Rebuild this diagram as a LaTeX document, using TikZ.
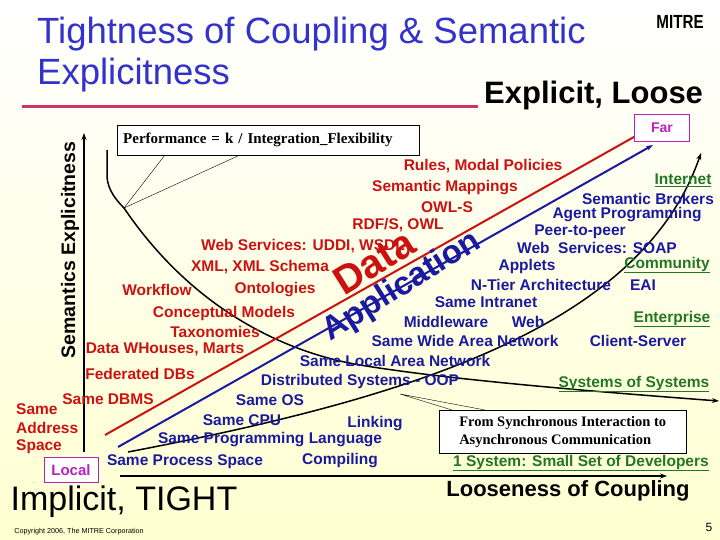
\documentclass[tikz,border=0pt]{standalone}
\usepackage{fontspec}
\setmainfont{Liberation Sans}
\newfontfamily\serifT{Liberation Serif}
\usetikzlibrary{arrows.meta}
\definecolor{ttl}{HTML}{3333CC}
\definecolor{rd}{HTML}{CC1111}
\definecolor{bl}{HTML}{1A1AA0}
\definecolor{gr}{HTML}{227722}
\definecolor{pk}{HTML}{CC3366}
\definecolor{mg}{HTML}{BB22BB}
\begin{document}
\begin{tikzpicture}[x=1pt,y=-1pt,
  rl/.style={text=rd,font=\bfseries\fontsize{15.5}{15.5}\selectfont,inner sep=0pt},
  bll/.style={text=bl,font=\bfseries\fontsize{15.5}{15.5}\selectfont,inner sep=0pt},
  gl/.style={text=gr,font=\bfseries\fontsize{15.5}{15.5}\selectfont,inner sep=0pt},
  arr/.style={-{Stealth[length=7pt,width=5pt]}},
  cbox/.style={draw,fill=white,inner sep=4pt}]
\shade[top color=white,bottom color=yellow!18] (0,0) rectangle (720,540);
\useasboundingbox (0,0) rectangle (720,540);
% title
\node[anchor=base west,text=ttl,font=\fontsize{36.5}{36.5}\selectfont,inner sep=0pt] (t1) at (37,44) {Tightness of Coupling \& Semantic};
\node[anchor=base west,text=ttl,font=\fontsize{36.5}{36.5}\selectfont,inner sep=0pt] (t2) at (37,85) {Explicitness};
\node[font=\bfseries\fontsize{19}{19}\selectfont,inner sep=0pt] (mitre) at (680,22) {\addfontfeature{FakeStretch=0.8}MITRE};
\draw[pk,line width=3pt] (22,107) coordinate (ul1) -- (478,107) coordinate (ul2);
\node[anchor=base west,font=\bfseries\fontsize{31}{31}\selectfont,inner sep=0pt] (el) at (484,104) {Explicit, Loose};
% axes
\coordinate (ya0) at (84,452); \coordinate (ya1) at (84,133);
\draw[line width=1.5pt,arr] (ya0) -- (ya1);
\node[rotate=90,font=\bfseries\fontsize{19.5}{19.5}\selectfont,inner sep=0pt] (yl) at (70,250) {Semantics Explicitness};
\coordinate (xa0) at (120,476); \coordinate (xa1) at (667,476);
\draw[line width=1.5pt,arr] (xa0) -- (xa1);
% performance curve
\coordinate (p0) at (107,150); \coordinate (pc) at (124,208); \coordinate (pe) at (719,401);
\draw[line width=1.5pt,arr] (p0) -- (107,177) .. controls (108,190) and (116,200) .. (pc)
  .. controls (200,320) and (300,355) .. (360,365) .. controls (450,380) and (600,392) .. (pe);
% data / application lines
\coordinate (d0) at (105,435); \coordinate (d1) at (641,133);
\draw[rd,line width=2pt,arr] (d0) -- (d1);
\coordinate (a0) at (118,447); \coordinate (a1) at (653,145);
\draw[bl,line width=2pt,arr] (a0) -- (a1);
% coupling curve
\coordinate (c0) at (128,452); \coordinate (c1) at (701,153);
\draw[line width=1.5pt,arr] (c0) .. controls (400,400) and (640,330) .. (c1);
% big rotated words
\node[rotate=32,text=rd,font=\bfseries\fontsize{40}{40}\selectfont,inner sep=0pt] (data) at (374,262) {Data};
\node[rotate=32,text=bl,font=\bfseries\fontsize{33}{33}\selectfont,inner sep=0pt] (app) at (402,287) {Application};
% performance box
\node[cbox,anchor=north west,minimum width=302pt,minimum height=30pt,font=\serifT\bfseries\fontsize{15}{15}\selectfont,align=left,text width=290pt] (perf) at (117,125) {Performance = k / Integration\_Flexibility};
\draw (165,155) -- (pc) -- (240,155);
% red labels
\node[rl] (r1) at (483,166) {Rules, Modal Policies};
\node[rl] (r2) at (445,188) {Semantic Mappings};
\node[rl] (r3) at (447,207) {OWL-S};
\node[rl] (r4) at (398,225) {RDF/S, OWL};
\node[rl] (r5) at (303,246) {Web Services: UDDI, WSDL};
\node[rl] (r6) at (260,267) {XML, XML Schema};
\node[rl] (r7) at (157,290) {Workflow};
\node[rl] (r8) at (275,290) {Ontologies};
\node[rl] (r9) at (224,313) {Conceptual Models};
\node[rl] (r10) at (215,332) {Taxonomies};
\node[rl] (r11) at (165,349) {Data WHouses, Marts};
\node[rl] (r12) at (140,374) {Federated DBs};
\node[rl] (r13) at (108,399) {Same DBMS};
\node[rl,anchor=west] (r14) at (16,409) {Same};
\node[rl,anchor=west] (r15) at (16,428) {Address};
\node[rl,anchor=west] (r16) at (16,447) {Space};
% blue labels
\node[bll] (b1) at (648,199) {Semantic Brokers};
\node[bll] (b2) at (627,215) {Agent Programming};
\node[bll] (b3) at (580,232) {Peer-to-peer};
\node[bll] (b4) at (597,248) {Web\ \ Services: SOAP};
\node[bll] (b5) at (527,266) {Applets};
\node[bll] (b6) at (541,285) {N-Tier Architecture};
\node[bll] (b7) at (643,285) {EAI};
\node[bll] (b8) at (486,302) {Same Intranet};
\node[bll] (b9) at (446,322) {Middleware};
\node[bll] (b10) at (528,322) {Web};
\node[bll] (b11) at (465,341) {Same Wide Area Network};
\node[bll] (b12) at (638,341) {Client-Server};
\node[bll] (b13) at (395,361) {Same Local Area Network};
\node[bll] (b14) at (360,381) {Distributed Systems - OOP};
\node[bll] (b15) at (270,400) {Same OS};
\node[bll] (b16) at (242,420) {Same CPU};
\node[bll] (b17) at (375,424) {Linking};
\node[bll] (b18) at (270,440) {Same Programming Language};
\node[bll] (b19) at (185,462) {Same Process Space};
\node[bll] (b20) at (340,461) {Compiling};
% green labels
\node[gl] (g1) at (683,180) {\underline{Internet}};
\node[gl] (g2) at (667,265) {\underline{Community}};
\node[gl] (g3) at (672,319) {\underline{Enterprise}};
\node[gl] (g4) at (634,384) {\underline{Systems of Systems}};
\node[gl] (g5) at (581,463) {\underline{1 System: Small Set of Developers}};
% boxes
\node[draw=mg,fill=white,text=mg,font=\bfseries\fontsize{14}{14}\selectfont,minimum width=55pt,minimum height=27pt] (far) at (662,128) {Far};
\node[draw=mg,fill=white,text=mg,font=\bfseries\fontsize{15}{15}\selectfont,minimum width=54pt,minimum height=25pt] (local) at (71,470) {Local};
\coordinate (sc) at (400,394);
\draw (sc) -- (452,410) (sc) -- (485,410);
\node[cbox,anchor=north west,minimum width=247pt,minimum height=41pt,font=\serifT\bfseries\fontsize{14.5}{18}\selectfont,align=left,inner sep=6pt] (sync) at (439,410) {From Synchronous Interaction to\\Asynchronous Communication};
% bottom texts
\node[font=\bfseries\fontsize{22}{22}\selectfont,inner sep=0pt] (loose) at (568,491) {Looseness of Coupling};
\node[font=\fontsize{34}{34}\selectfont,inner sep=0pt] (tight) at (124,502) {Implicit, TIGHT};
\node[font=\fontsize{7.2}{7.2}\selectfont,inner sep=0pt] (copy) at (79,532) {Copyright 2006, The MITRE Corporation};
\node[font=\fontsize{12}{12}\selectfont,inner sep=0pt] (pg) at (709,527) {5};
\end{tikzpicture}
\end{document}
